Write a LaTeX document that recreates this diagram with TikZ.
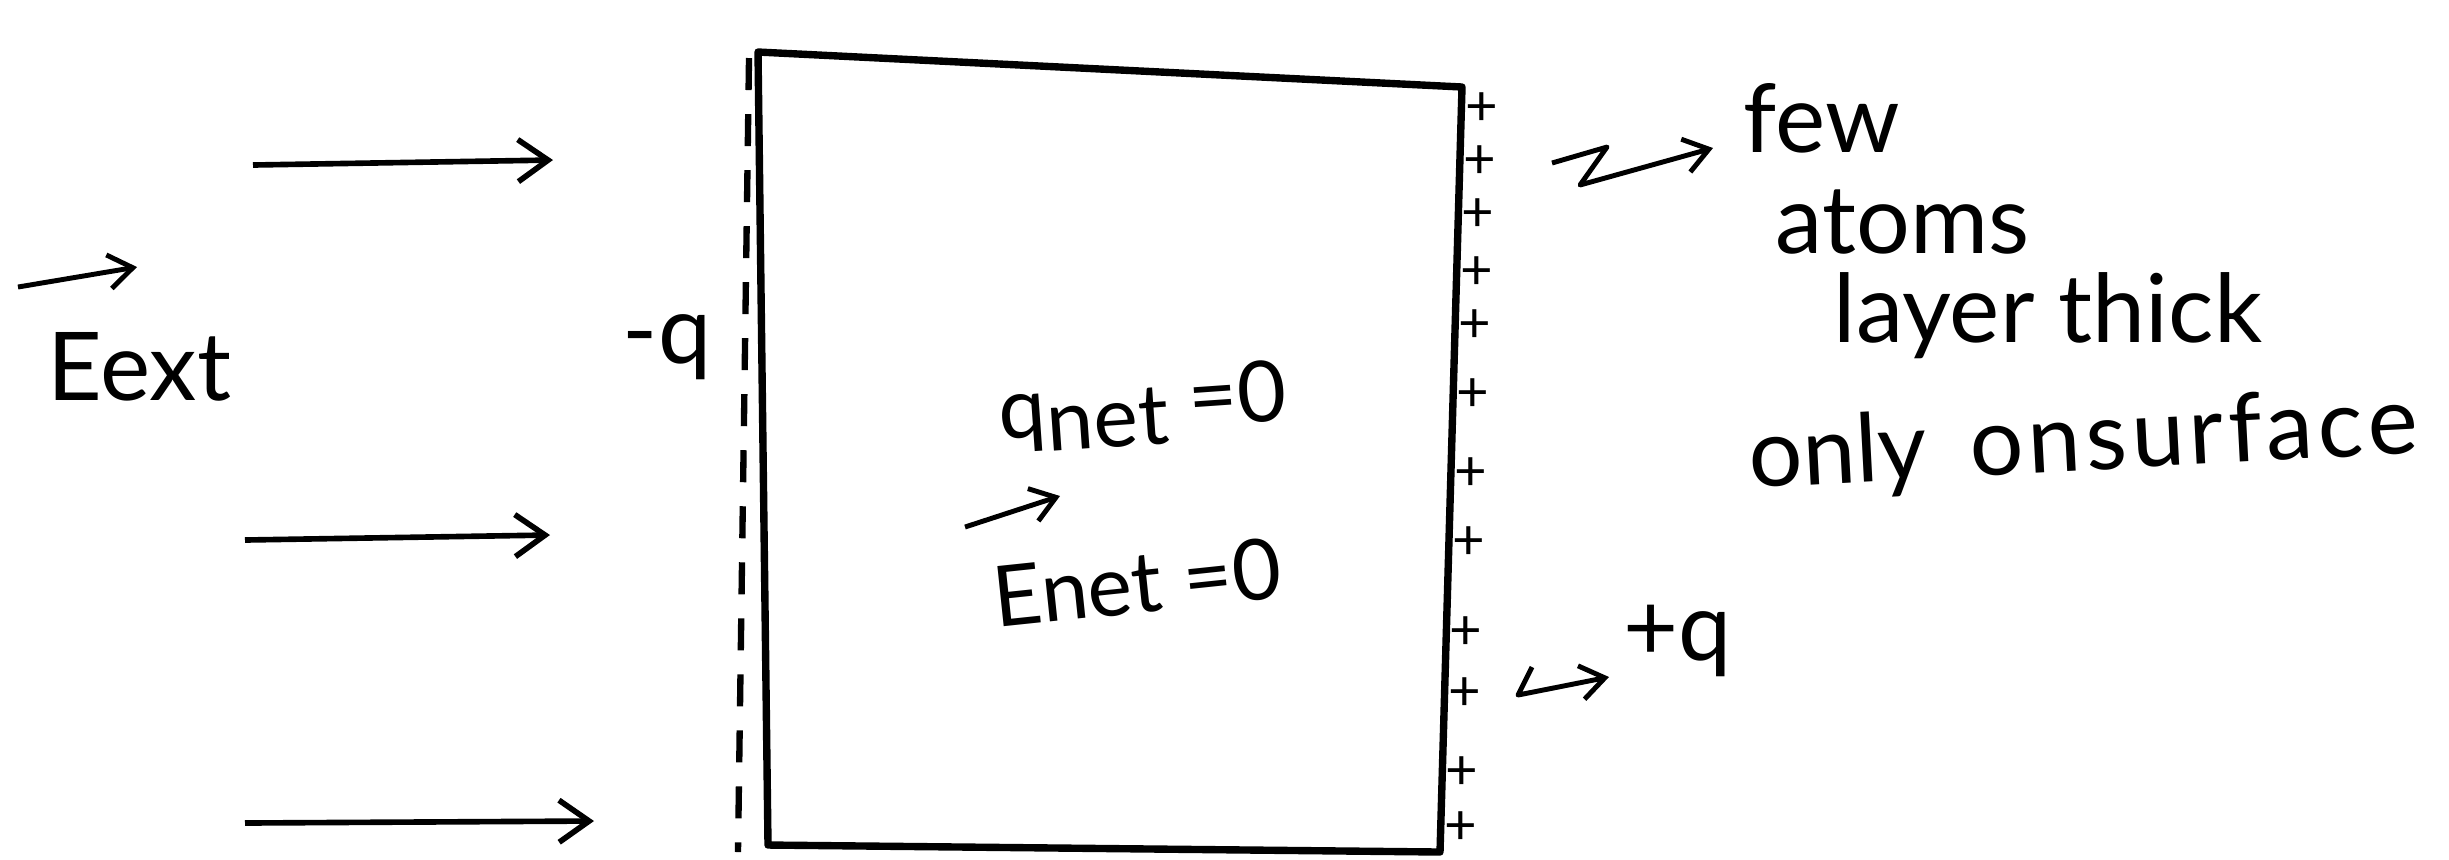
\documentclass[tikz,border=0pt]{standalone}
\usepackage{fontspec}
\setmainfont{Lato}
\usepackage{tikz}
\usetikzlibrary{positioning,arrows.meta}

\begin{document}
\begin{tikzpicture}[
  x=0.01cm, y=-0.01cm,
  txt/.style={font=\fontsize{27}{32}\selectfont, inner sep=0pt},
  inner/.style={font=\fontsize{24}{28}\selectfont, inner sep=0pt},
  plus/.style={font=\fontsize{16}{18}\selectfont, inner sep=0pt},
  field/.style={-{Straight Barb[length=3mm,width=4.2mm]}, line width=1.6pt},
  pen/.style={-{Straight Barb[length=2.4mm,width=3.4mm]}, line width=1.4pt, line join=round},
  plate/.style={line width=2.1pt, line join=round}
]
\useasboundingbox (0,0) rectangle (2449,859);

% external field
\coordinate (f1s) at (253,165); \coordinate (f1e) at (553,160);
\coordinate (f2s) at (245,540); \coordinate (f2e) at (550,535);
\coordinate (f3s) at (245,823); \coordinate (f3e) at (594,821);
\draw[field] (f1s) -- (f1e);
\draw[field] (f2s) -- (f2e);
\draw[field] (f3s) -- (f3e);

\node[txt, anchor=base west] (eext) at (47,400) {Eext};
\draw[pen] ([shift={(-29,-113)}]eext.base west) -- ([shift={(90,-133)}]eext.base west);

% conductor slab
\coordinate (tl) at (758,52);
\coordinate (tr) at (1462,87);
\coordinate (br) at (1440,852);
\coordinate (bl) at (768,845);
\draw[plate] (tl) -- (tr) -- (br) -- (bl) -- cycle;

% induced charges
\coordinate (ntop) at (749,58);
\coordinate (nbot) at (738,852);
\draw[line width=1.8pt, dash pattern=on 0.32cm off 0.24cm] (ntop) -- (nbot);
\node[txt, anchor=base] (negq) at (667,363) {-q};

\foreach \y [count=\i] in {109,162,215,273,326,395,474,543,633,694,773,828}
  \node[plus] (p\i) at ({1482-(\y-87)*0.029},\y) {+};

\node[txt, anchor=base west] (posq) at (1623,660) {+q};
\coordinate (hk) at (1532,667);
\draw[pen] (hk) -- (1518,695) -- ([shift={(-14,0)}]posq.south west);

% inside
\node[inner, anchor=base west, rotate=4] (qnet) at (1000,440) {q\raisebox{-0.35ex}{net} =0};
\node[inner, anchor=base west, rotate=6] (enet) at (996,628) {Enet =0};
\draw[pen] ([shift={(-31,-101)}]enet.base west) -- ([shift={(64,-132)}]enet.base west);

% note
\node[txt, anchor=base west] (few) at (1743,152) {few};
\node[txt, anchor=base west] (atoms) at (1775,253) {atoms};
\node[txt, anchor=base west] (layer) at (1833,342) {layer thick};
\node[txt, anchor=base west, rotate=3] (only) at (1750,488) {only\hspace{0.45em}\addfontfeatures{LetterSpace=5}onsurface};
\coordinate (zs) at (1552,163);
\draw[pen] (zs) -- (1607,147) -- (1580,185) -- ([shift={(-30,-4)}]few.base west);
\end{tikzpicture}
\end{document}
